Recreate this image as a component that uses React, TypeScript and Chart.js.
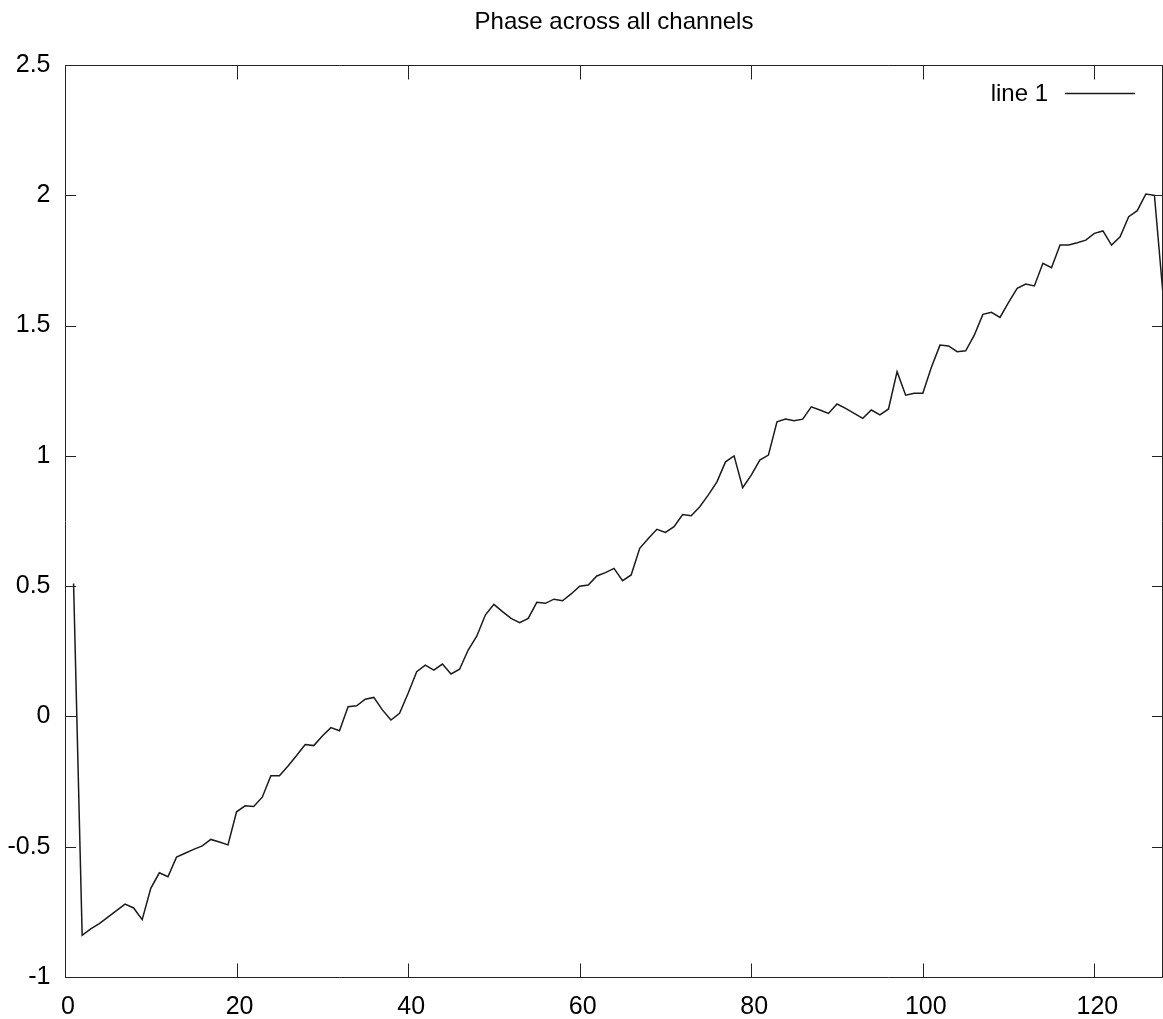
import React, { useEffect, useRef } from "react";
import { Chart, registerables } from "chart.js";

Chart.register(...registerables);

// Channel indices (x) and phase values (y)
const channels: number[] = Array.from({ length: 128 }, (_, i) => i + 1);

const phaseCh1to32 = [
  0.51, -0.84, -0.815, -0.795, -0.77, -0.745, -0.72, -0.735, -0.78, -0.66,
  -0.6, -0.615, -0.54, -0.525, -0.51, -0.497, -0.472, -0.482, -0.493, -0.366,
  -0.343, -0.346, -0.31, -0.228, -0.228, -0.19, -0.15, -0.108, -0.112, -0.075,
  -0.043, -0.055,
];
const phaseCh33to64 = [
  0.037, 0.041, 0.066, 0.073, 0.025, -0.014, 0.012, 0.089, 0.172, 0.197,
  0.178, 0.201, 0.163, 0.181, 0.255, 0.308, 0.389, 0.43, 0.402, 0.376,
  0.36, 0.376, 0.438, 0.434, 0.45, 0.444, 0.47, 0.5, 0.504, 0.539,
  0.552, 0.568,
];
const phaseCh65to96 = [
  0.521, 0.543, 0.645, 0.683, 0.718, 0.706, 0.728, 0.775, 0.77, 0.805,
  0.85, 0.9, 0.977, 1.0, 0.878, 0.926, 0.984, 1.003, 1.131, 1.141,
  1.135, 1.141, 1.188, 1.176, 1.163, 1.199, 1.182, 1.163, 1.144, 1.176,
  1.157, 1.18,
];
const phaseCh97to128 = [
  1.323, 1.233, 1.24, 1.24, 1.34, 1.425, 1.422, 1.4, 1.403, 1.463,
  1.543, 1.551, 1.531, 1.589, 1.643, 1.659, 1.652, 1.739, 1.722, 1.809,
  1.809, 1.818, 1.828, 1.854, 1.863, 1.809, 1.841, 1.918, 1.941, 2.005,
  2.0, 1.62,
];
const phase = [...phaseCh1to32, ...phaseCh33to64, ...phaseCh65to96, ...phaseCh97to128];

const titleText = "Phase across all channels";
const seriesLabel = "line 1";
const xRange = [0, 128];
const yRange = [-1, 2.5];
const xStep = 20;
const yStep = 0.5;

const TICK_FONT = "'Liberation Sans', Arial, sans-serif";
const TITLE_FONT = "'Liberation Sans', Arial, sans-serif";

const framePlugin = {
  id: "gnuplotFrame",
  afterDraw(chart: any) {
    const { ctx, chartArea: a, scales } = chart;
    const xs = scales.x;
    const ys = scales.y;
    ctx.save();
    ctx.strokeStyle = "#222";
    ctx.lineWidth = 1;
    const L = Math.round(a.left) + 0.5;
    const R = Math.round(a.right) - 0.5;
    const T = Math.round(a.top) + 0.5;
    const B = Math.round(a.bottom) + 0.5;
    ctx.beginPath();
    ctx.rect(L, T, R - L, B - T);
    xs.ticks.forEach((t: any) => {
      const px = Math.round(xs.getPixelForValue(t.value)) + 0.5;
      ctx.moveTo(px, B);
      ctx.lineTo(px, B - 14);
      ctx.moveTo(px, T);
      ctx.lineTo(px, T + 14);
    });
    ys.ticks.forEach((t: any) => {
      const py = Math.round(ys.getPixelForValue(t.value)) + 0.5;
      ctx.moveTo(L, py);
      ctx.lineTo(L + 10.5, py);
      ctx.moveTo(R, py);
      ctx.lineTo(R - 10.5, py);
    });
    ctx.stroke();

    // gnuplot-style key: label then line sample, top right
    const ds = chart.data.datasets[0];
    const ky = a.top + 28.5;
    ctx.fillStyle = "#000";
    ctx.font = `24px ${TICK_FONT}`;
    ctx.textAlign = "right";
    ctx.textBaseline = "middle";
    ctx.fillText(ds.label, a.right - 115, ky + 1);
    ctx.strokeStyle = ds.borderColor;
    ctx.lineWidth = 1.5;
    ctx.beginPath();
    ctx.moveTo(a.right - 98, ky);
    ctx.lineTo(a.right - 28, ky);
    ctx.stroke();
    ctx.restore();
  },
};

export default function App() {
  const ref = useRef<HTMLCanvasElement | null>(null);

  useEffect(() => {
    if (!ref.current) return;
    const chart = new Chart(ref.current, {
      type: "line",
      data: {
        datasets: [
          {
            label: seriesLabel,
            data: channels.map((c, i) => ({ x: c, y: phase[i] })),
            borderColor: "#1a1a1a",
            borderWidth: 1.5,
            pointRadius: 0,
            tension: 0,
            fill: false,
          },
        ],
      },
      options: {
        animation: false,
        responsive: false,
        devicePixelRatio: 1,
        layout: { padding: 0 },
        plugins: {
          legend: { display: false },
          tooltip: { enabled: false },
          title: {
            display: true,
            fullSize: false,
            text: titleText,
            color: "#000",
            font: { family: TITLE_FONT, size: 24, weight: "normal", lineHeight: 1.2 },
            padding: { top: 8, bottom: 28.2 },
          },
        },
        scales: {
          x: {
            type: "linear",
            min: xRange[0],
            max: xRange[1],
            grid: { display: false, drawTicks: false },
            border: { display: false },
            afterBuildTicks: (s: any) => {
              s.ticks = s.ticks.filter((t: any) => t.value % xStep === 0);
            },
            ticks: {
              stepSize: xStep,
              color: "#000",
              padding: 15,
              labelOffset: 3,
              maxRotation: 0,
              autoSkip: false,
              font: { family: TICK_FONT, size: 25 },
              callback: (v: any) => String(v),
            },
            afterFit: (s: any) => {
              s.height = 42;
            },
          },
          y: {
            type: "linear",
            min: yRange[0],
            max: yRange[1],
            grid: { display: false, drawTicks: false },
            border: { display: false },
            ticks: {
              stepSize: yStep,
              color: "#000",
              padding: 14.5,
              autoSkip: false,
              font: { family: TICK_FONT, size: 25 },
              callback: (v: any) => String(v),
            },
            afterFit: (s: any) => {
              s.width = 65;
            },
          },
        },
      },
      plugins: [framePlugin],
    });
    return () => chart.destroy();
  }, []);

  return (
    <div style={{ position: "absolute", left: 0, top: 0, width: 1163, height: 1019, background: "#fff" }}>
      <canvas ref={ref} width={1163} height={1019} style={{ display: "block", width: 1163, height: 1019 }} />
    </div>
  );
}
